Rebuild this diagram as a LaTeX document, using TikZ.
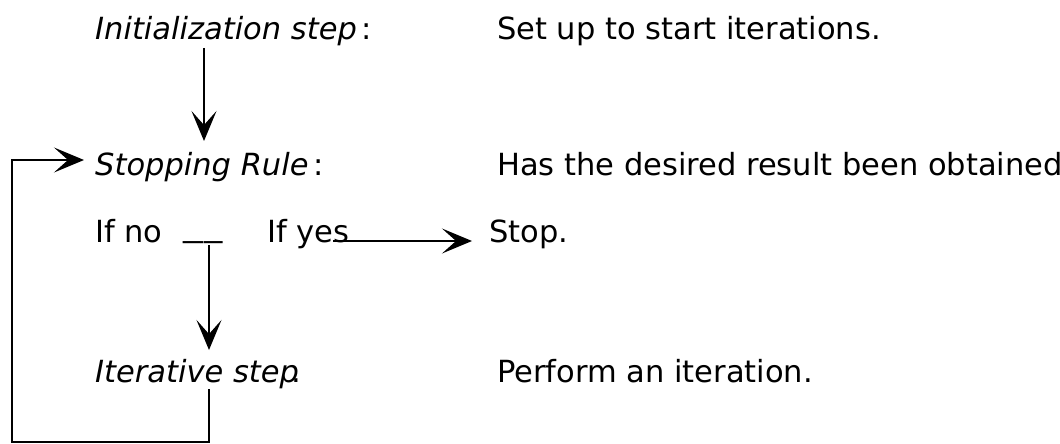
\documentclass[tikz,border=0pt]{standalone}
\usepackage{fontspec}
\setmainfont{DejaVu Sans}
\usetikzlibrary{arrows.meta}
\begin{document}
\begin{tikzpicture}[x=1pt,y=-1pt,
  txt/.style={anchor=base west,inner sep=0pt,font=\fontsize{30.5}{35}\selectfont},
  link/.style={line width=1.9pt},
  arr/.style={link,-{Stealth[length=30pt,width=25pt,inset=14pt]}}]
\useasboundingbox (0,0) rectangle (1060,444);
\clip (0,0) rectangle (1060,444);

% left column: steps
\node[txt] (init) at (95,40) {\textit{Initialization step}\kern5pt:};
\node[txt] (rule) at (95,175) {\textit{Stopping Rule}\kern5pt:};
\node[txt] (ifno) at (95,242) {If no};
\node[txt] (blank) at (183,236) {\scalebox{1.3}[1]{\_}\kern1.8pt\scalebox{1.2}[1]{\_}};
\node[txt] (ifyes) at (267,242) {If yes};
\node[txt] (iter) at (95,382) {\textit{Iterative step}\kern-7.5pt.};

% right column: descriptions
\node[txt] (setup) at (497,40) {Set up to start iterations.};
\node[txt] (has) at (497,175) {Has the desired result been obtained?};
\node[txt] (stop) at (489,242) {Stop.};
\node[txt] (perform) at (497,382) {Perform an iteration.};

% connector end points
\coordinate (initout) at (204,48);
\coordinate (rulein) at (204,141);
\coordinate (noout) at (209,245);
\coordinate (iterin) at (209,350);
\coordinate (yesout) at (333,241);
\coordinate (stopin) at (472,241);
\coordinate (iterout) at (209,389);
\coordinate (loopin) at (84,160);

\draw[arr] (initout) -- (rulein);
\draw[arr] (noout) -- (iterin);
\draw[arr] (yesout) -- (stopin);
\draw[arr] (iterout) |- (12,442) |- (loopin);
\end{tikzpicture}
\end{document}
